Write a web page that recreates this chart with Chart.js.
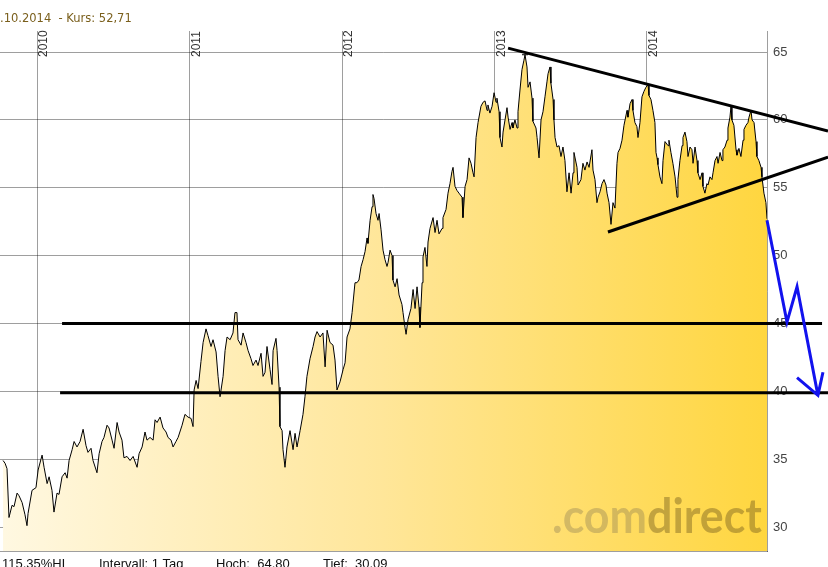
<!DOCTYPE html>
<html><head><meta charset="utf-8">
<script src="https://cdn.jsdelivr.net/npm/chart.js@4/dist/chart.umd.min.js"></script>
<style>html,body{margin:0;padding:0;background:#fff;overflow:hidden;}canvas{display:block;}</style>
</head><body>
<canvas id="c" width="828" height="567"></canvas>
<script>
// ---- data (decimal years / price in EUR) ----
const dates = [
2009.777,2009.790,2009.803,2009.816,2009.836,2009.849,2009.869,2009.882,2009.902,2009.921,2009.934,2009.941,2009.967,2009.993,
2010.007,2010.033,2010.046,2010.066,2010.079,2010.098,2010.111,2010.131,2010.144,2010.164,2010.184,2010.197,2010.210,2010.230,
2010.243,2010.262,2010.282,2010.302,2010.321,2010.334,2010.354,2010.367,2010.393,2010.407,2010.426,2010.439,2010.459,2010.472,
2010.492,2010.505,2010.525,2010.538,2010.557,2010.570,2010.590,2010.610,2010.630,2010.656,2010.669,2010.689,2010.708,2010.721,
2010.741,2010.761,2010.774,2010.787,2010.807,2010.826,2010.846,2010.859,2010.879,2010.892,2010.911,2010.925,2010.951,2010.970,
2010.990,2011.010,2011.023,2011.030,2011.043,2011.056,2011.075,2011.089,2011.108,2011.121,2011.141,2011.154,2011.174,2011.187,
2011.200,2011.220,2011.233,2011.246,2011.266,2011.285,2011.298,2011.311,2011.318,2011.338,2011.351,2011.370,2011.384,2011.403,
2011.416,2011.436,2011.449,2011.469,2011.482,2011.495,2011.508,2011.528,2011.541,2011.548,2011.567,2011.574,2011.587,2011.593,
2011.607,2011.613,2011.626,2011.639,2011.659,2011.679,2011.692,2011.705,2011.725,2011.744,2011.757,2011.770,2011.790,2011.810,
2011.823,2011.836,2011.856,2011.875,2011.889,2011.902,2011.921,2011.941,2011.954,2011.967,2011.987,2012.007,2012.020,2012.033,
2012.052,2012.066,2012.072,2012.085,2012.098,2012.111,2012.125,2012.138,2012.151,2012.164,2012.170,2012.184,2012.197,2012.203,
2012.210,2012.223,2012.236,2012.243,2012.256,2012.269,2012.282,2012.295,2012.302,2012.315,2012.328,2012.334,2012.348,2012.361,
2012.374,2012.393,2012.400,2012.413,2012.420,2012.433,2012.452,2012.466,2012.479,2012.492,2012.505,2012.511,2012.525,2012.531,
2012.544,2012.557,2012.564,2012.577,2012.597,2012.610,2012.623,2012.636,2012.656,2012.662,2012.682,2012.695,2012.708,2012.721,
2012.728,2012.741,2012.754,2012.767,2012.787,2012.793,2012.807,2012.820,2012.833,2012.846,2012.859,2012.866,2012.879,2012.892,
2012.911,2012.925,2012.938,2012.951,2012.957,2012.970,2012.984,2012.997,2013.010,2013.016,2013.030,2013.036,2013.049,2013.056,
2013.069,2013.082,2013.089,2013.102,2013.115,2013.121,2013.134,2013.148,2013.154,2013.167,2013.180,2013.193,2013.200,2013.213,
2013.220,2013.233,2013.246,2013.252,2013.272,2013.279,2013.292,2013.305,2013.318,2013.331,2013.344,2013.351,2013.364,2013.370,
2013.384,2013.390,2013.397,2013.410,2013.423,2013.436,2013.449,2013.462,2013.475,2013.489,2013.502,2013.515,2013.521,2013.541,
2013.548,2013.567,2013.580,2013.593,2013.607,2013.620,2013.639,2013.646,2013.659,2013.672,2013.679,2013.692,2013.705,2013.718,
2013.731,2013.738,2013.751,2013.764,2013.777,2013.790,2013.803,2013.810,2013.823,2013.836,2013.849,2013.869,2013.875,2013.889,
2013.902,2013.908,2013.921,2013.934,2013.941,2013.954,2013.967,2013.980,2013.993,2014.007,2014.013,2014.026,2014.039,2014.052,
2014.059,2014.066,2014.072,2014.085,2014.098,2014.105,2014.118,2014.138,2014.144,2014.157,2014.170,2014.184,2014.197,2014.203,
2014.216,2014.230,2014.236,2014.249,2014.262,2014.269,2014.282,2014.295,2014.302,2014.315,2014.328,2014.334,2014.348,2014.361,
2014.367,2014.380,2014.393,2014.400,2014.413,2014.426,2014.433,2014.446,2014.459,2014.466,2014.479,2014.492,2014.498,2014.511,
2014.525,2014.531,2014.544,2014.551,2014.557,2014.570,2014.584,2014.590,2014.603,2014.616,2014.630,2014.636,2014.649,2014.662,
2014.669,2014.682,2014.689,2014.702,2014.715,2014.721,2014.734,2014.748,2014.754,2014.767,2014.780,2014.787
];
const prices = [
34.9,34.7,34.3,30.7,31.6,31.5,32.5,32.3,31.8,30.9,30.1,31.0,32.7,32.9,
34.2,35.3,34.4,33.2,33.7,32.7,31.1,32.5,32.4,33.7,34.0,33.6,34.9,35.7,
36.3,35.9,36.3,37.2,36.0,35.5,35.8,34.9,34.0,35.4,36.3,36.6,37.5,37.3,
36.4,35.8,37.7,37.0,36.4,35.1,35.2,34.9,35.2,34.4,35.4,35.9,37.0,36.4,
36.6,36.4,37.9,37.7,38.1,37.3,37.0,36.6,36.4,35.9,36.3,36.6,37.5,38.3,
38.1,38.0,37.4,40.1,40.8,40.2,42.2,43.6,44.6,44.1,43.3,43.8,42.9,41.1,
39.6,41.1,43.0,44.0,43.8,44.3,45.8,45.8,43.8,43.4,44.3,43.6,43.0,42.4,
41.9,42.3,41.9,42.8,41.1,41.4,43.3,41.6,40.5,43.0,43.9,43.0,40.3,37.4,
37.1,35.7,34.4,35.9,37.1,35.7,36.9,35.9,37.1,38.3,39.6,41.1,42.4,43.3,
44.0,44.4,44.0,44.3,41.8,44.5,43.6,43.4,42.3,40.1,40.7,41.6,42.1,44.0,
44.6,45.8,46.5,48.0,48.0,48.2,49.2,49.7,50.3,51.3,50.9,52.6,53.6,54.5,
54.2,53.1,52.6,53.1,51.9,50.4,49.7,49.2,49.5,50.4,50.0,48.2,47.7,48.3,
47.1,46.4,45.8,44.7,44.2,45.3,46.1,47.5,46.1,47.7,46.2,44.7,48.0,49.9,
50.6,49.2,51.0,52.0,52.8,51.7,52.6,51.6,52.0,52.8,53.4,54.6,55.3,56.2,
56.5,55.1,54.8,54.6,54.3,52.8,55.1,55.6,57.2,56.8,56.1,55.8,58.7,59.8,
61.0,61.3,61.4,60.7,61.1,60.5,61.0,62.0,61.3,61.6,60.6,58.7,58.0,59.1,
60.0,60.9,60.2,59.3,59.8,59.4,60.0,59.4,60.6,62.2,63.7,64.4,64.8,63.9,
62.4,62.8,61.6,59.9,59.4,58.7,57.2,60.0,60.6,61.7,62.8,63.4,63.9,62.7,
61.5,60.0,58.7,58.0,58.1,57.3,58.0,57.0,54.7,56.1,54.6,56.1,57.6,56.5,
55.2,55.6,56.8,56.3,56.9,56.5,57.8,56.3,55.6,53.9,54.3,54.7,55.3,55.6,
55.2,54.6,53.9,52.3,53.9,53.5,56.8,57.6,57.9,58.5,59.6,60.7,60.2,61.2,
61.5,60.7,59.8,59.5,58.7,59.8,61.7,62.1,62.4,62.6,61.8,61.5,60.7,59.8,
57.6,57.2,56.7,55.8,55.3,57.0,58.4,58.1,58.5,57.6,56.8,55.8,54.3,55.6,
57.0,58.1,58.7,59.1,58.4,57.3,58.0,57.8,56.8,58.0,57.0,56.1,55.6,56.1,
55.1,54.6,55.3,55.2,55.8,55.6,56.1,57.0,57.3,56.8,57.6,57.0,57.8,58.0,
58.5,59.4,60.2,61.0,60.0,59.6,57.8,57.4,57.9,57.3,58.5,59.3,59.6,59.8,
60.2,60.7,60.0,59.8,58.4,57.3,57.0,56.5,55.8,54.6,53.9,52.71
];
const yearTicks = [2010, 2011, 2012, 2013, 2014];
const yearLabels = ['2010', '2011', '2012', '2013', '2014'];
const priceTicks = [30, 35, 40, 45, 50, 55, 60, 65];
const xRange = [2009.757, 2014.787];
const yRange = [28.232, 66.549];

// extremes (Tief / Hoch)
const extremeDates = [2009.934, 2013.200];
const extremeValues = [30.09, 64.80];
const extremeMarkSize = [5.5, 3];

// drawn analysis lines [year, value]
const trendUpper = [[2013.089, 65.29], [2015.187, 59.18]];
const trendLower = [[2013.744, 51.74], [2015.187, 57.26]];
const support45 = [[2010.164, 45.0], [2015.148, 45.0]];
const support40 = [[2010.151, 39.9], [2015.187, 39.9]];
const forecastPath = [[2014.787, 52.6], [2014.918, 45.1], [2014.984, 47.7], [2015.121, 39.7]];
const forecastHead = [[2014.984, 41.0], [2015.121, 39.7], [2015.154, 41.4]];

const headerText = '.10.2014  - Kurs: 52,71';
const footerTexts = ['115,35%HL', 'Intervall: 1 Tag', 'Hoch:  64,80', 'Tief:  30,09'];
const footerOffsets = [2, 99, 216, 323];

const GRID = 'rgba(0,0,0,0.38)';

const overlay = {
  id: 'overlay',
  afterDatasetsDraw(chart) {
    const ctx = chart.ctx, a = chart.chartArea;
    ctx.save();
    ctx.font = 'bold 48px Lato';
    const w1 = ctx.measureText('.com').width;
    const w = ctx.measureText('.comdirect').width;
    const target = 210;
    const s = target / w;
    ctx.translate(a.right - 5 - target, a.bottom - 18);
    ctx.scale(s, 1);
    ctx.textBaseline = 'alphabetic';
    ctx.fillStyle = 'rgba(110,100,80,0.30)';
    ctx.fillText('.com', 0, 0);
    ctx.fillStyle = 'rgba(120,95,30,0.45)';
    ctx.fillText('direct', w1, 0);
    ctx.restore();
  },
  afterDraw(chart) {
    const ctx = chart.ctx, a = chart.chartArea;
    const xs = chart.scales.x, ys = chart.scales.y;
    ctx.save();
    // year labels (rotated, inside the top of the plot)
    ctx.font = '12px "Liberation Sans"';
    ctx.fillStyle = '#333';
    ctx.textAlign = 'left';
    ctx.textBaseline = 'alphabetic';
    yearTicks.forEach((v, i) => {
      const px = xs.getPixelForValue(v);
      ctx.save();
      ctx.translate(px + 10, a.top + 26);
      ctx.rotate(-Math.PI / 2);
      ctx.fillText(yearLabels[i], 0, 0);
      ctx.restore();
    });
    // analysis lines
    const poly = (pts, color, width) => {
      ctx.beginPath();
      pts.forEach((p, i) => {
        const X = xs.getPixelForValue(p[0]), Y = ys.getPixelForValue(p[1]);
        if (i === 0) ctx.moveTo(X, Y); else ctx.lineTo(X, Y);
      });
      ctx.strokeStyle = color; ctx.lineWidth = width;
      ctx.lineJoin = 'miter'; ctx.lineCap = 'butt';
      ctx.stroke();
    };
    poly(support45, '#000', 3);
    poly(support40, '#000', 3);
    poly(trendUpper, '#000', 3);
    poly(trendLower, '#000', 3);
    poly(forecastPath, '#1212ee', 3);
    poly(forecastHead, '#1212ee', 3);
    // header / footer
    ctx.font = '11.5px "DejaVu Sans"';
    ctx.fillStyle = '#7a5f1c';
    ctx.fillText(headerText, 0, 22);
    ctx.font = '13px "Liberation Sans"';
    ctx.fillStyle = '#111';
    footerTexts.forEach((t, i) => ctx.fillText(t, footerOffsets[i], 568));
    ctx.restore();
  }
};

new Chart(document.getElementById('c'), {
  type: 'line',
  data: {
    datasets: [
      {
        data: dates.map((d, i) => ({ x: d, y: prices[i] })),
        borderColor: '#000',
        borderWidth: 1,
        pointRadius: 0,
        tension: 0,
        fill: 'start',
        backgroundColor(ctx) {
          const a = ctx.chart.chartArea;
          if (!a) return '#ffe698';
          const g = ctx.chart.ctx.createLinearGradient(a.left, 0, a.right, 0);
          g.addColorStop(0, '#fff8e2');
          g.addColorStop(0.5, '#ffe699');
          g.addColorStop(1, '#ffd63f');
          return g;
        }
      },
      {
        type: 'scatter',
        data: extremeDates.map((d, i) => ({ x: d, y: extremeValues[i] })),
        pointStyle: 'line',
        pointRadius: extremeMarkSize,
        borderColor: '#000',
        borderWidth: 1,
        showLine: false
      }
    ]
  },
  options: {
    responsive: false,
    animation: false,
    devicePixelRatio: 1,
    layout: { autoPadding: false, padding: { top: 31, bottom: 16, left: 0, right: 0 } },
    plugins: { legend: { display: false }, tooltip: { enabled: false } },
    scales: {
      x: {
        type: 'linear',
        position: 'bottom',
        min: xRange[0], max: xRange[1],
        z: 1,
        afterBuildTicks(axis) { axis.ticks = yearTicks.map(v => ({ value: v })); },
        ticks: { display: false },
        grid: { color: GRID, lineWidth: 1, drawTicks: false },
        border: { display: true, color: GRID, width: 1 }
      },
      y: {
        type: 'linear',
        position: 'right',
        min: yRange[0], max: yRange[1],
        z: 1,
        afterBuildTicks(axis) { axis.ticks = priceTicks.map(v => ({ value: v })); },
        afterFit(axis) { axis.width = 61; },
        ticks: {
          padding: 6,
          color: '#444',
          font: { family: 'Liberation Sans', size: 13 },
          callback: v => String(v)
        },
        grid: { color: GRID, lineWidth: 1, drawTicks: false },
        border: { display: true, color: GRID, width: 1 }
      }
    }
  },
  plugins: [overlay]
});
</script>
</body></html>
